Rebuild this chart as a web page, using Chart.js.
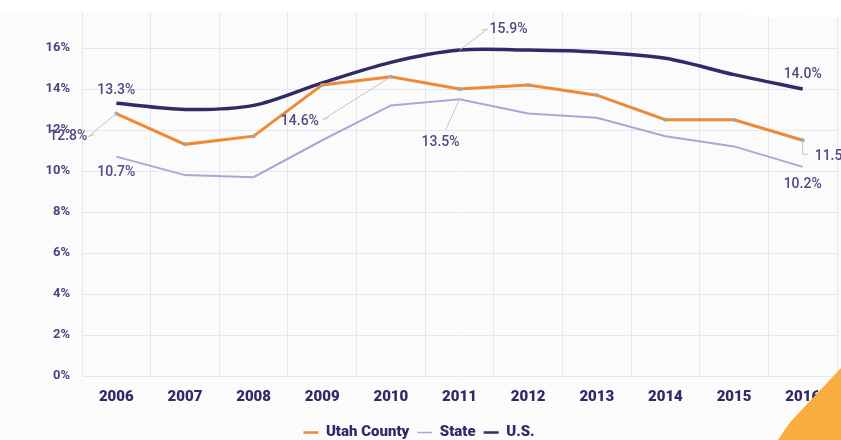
<!DOCTYPE html>
<html>
<head>
<meta charset="utf-8">
<script src="https://cdn.jsdelivr.net/npm/chart.js@4"></script>
<style>
  html, body { margin: 0; padding: 0; background: #fbfbfc; }
  #wrap { position: relative; width: 841px; height: 440px; overflow: hidden; }
  #chart { position: absolute; left: 0; top: 0; }
  .cover { position: absolute; background: #ffffff; }
  #corner { position: absolute; left: 0; top: 0; pointer-events: none; }
</style>
</head>
<body>
<div id="wrap">
  <canvas id="chart" width="841" height="440"></canvas>
  <div class="cover" style="left:0;top:0;width:841px;height:12px;"></div>
  <div class="cover" style="left:745px;top:0;width:96px;height:17px;"></div>
  <svg id="corner" width="841" height="440">
    <path d="M778 440 L786 428 Q789 423 794 418 L841 368 L841 440 Z" fill="#f7ae3f"/>
  </svg>
</div>
<script>
const years = ['2006', '2007', '2008', '2009', '2010', '2011', '2012', '2013', '2014', '2015', '2016'];
const utahCounty = [12.8, 11.3, 11.7, 14.2, 14.6, 14.0, 14.2, 13.7, 12.5, 12.5, 11.5];
const stateRate = [10.7, 9.8, 9.7, 11.5, 13.2, 13.5, 12.8, 12.6, 11.7, 11.2, 10.2];
const usRate = [13.3, 13.0, 13.2, 14.3, 15.3, 15.9, 15.9, 15.8, 15.5, 14.7, 14.0];
const yTicks = [0, 2, 4, 6, 8, 10, 12, 14, 16, 18];

const navy = '#2f2b66';
const labelColor = '#4e4a85';

// labels placed next to points: dataset index, point index, text offset, optional leader
const pointLabels = [
  { ds: 2, i: 0, dx: 0, dy: -13, align: 'center' },
  { ds: 1, i: 0, dx: 0, dy: 16, align: 'center' },
  { ds: 0, i: 0, dx: -48, dy: 23, align: 'center', leader: [[-28, 23], [-22, 21]] },
  { ds: 0, i: 4, dx: -91, dy: 45, align: 'center', leader: [[-68, 43], [-62, 41]] },
  { ds: 2, i: 5, dx: 49, dy: -21, align: 'center', leader: [[28, -21], [22, -20]] },
  { ds: 1, i: 5, dx: -19, dy: 43, align: 'center', leader: [[-14, 31]] },
  { ds: 2, i: 10, dx: 0, dy: -15, align: 'center' },
  { ds: 0, i: 10, dx: 12, dy: 16, align: 'left', leader: [[0, 14], [6, 14]] },
  { ds: 1, i: 10, dx: 0, dy: 18, align: 'center' },
];

const labelPlugin = {
  id: 'pointLabels',
  afterDatasetsDraw(chart) {
    const { ctx } = chart;
    const x = chart.scales.x;
    const y = chart.scales.y;
    ctx.save();
    pointLabels.forEach((l) => {
      const values = chart.data.datasets[l.ds].data;
      const px = x.getPixelForValue(l.i);
      const py = y.getPixelForValue(values[l.i]);
      if (l.leader) {
        ctx.strokeStyle = '#c9c5c0';
        ctx.lineWidth = 1;
        ctx.beginPath();
        ctx.moveTo(px, py);
        l.leader.forEach((p) => ctx.lineTo(px + p[0], py + p[1]));
        ctx.stroke();
      }
      ctx.fillStyle = labelColor;
      ctx.font = '500 14px Roboto';
      ctx.textAlign = l.align;
      ctx.textBaseline = 'middle';
      ctx.fillText(values[l.i].toFixed(1) + '%', px + l.dx, py + l.dy);
    });
    ctx.restore();
  },
};

new Chart(document.getElementById('chart'), {
  type: 'line',
  data: {
    labels: years,
    datasets: [
      {
        label: 'Utah County',
        data: utahCounty,
        borderColor: '#ee8a36',
        backgroundColor: '#ee8a36',
        borderWidth: 3,
        pointRadius: 2,
        pointBackgroundColor: '#a8a39c',
        pointBorderWidth: 0,
        tension: 0,
      },
      {
        label: 'State',
        data: stateRate,
        borderColor: '#aaa7d8',
        backgroundColor: '#aaa7d8',
        borderWidth: 2,
        pointRadius: 0,
        tension: 0,
      },
      {
        label: 'U.S.',
        data: usRate,
        borderColor: navy,
        backgroundColor: navy,
        borderWidth: 3.5,
        pointRadius: 0,
        tension: 0.3,
      },
    ],
  },
  options: {
    responsive: false,
    animation: false,
    layout: { padding: { top: 7, right: 3, left: 0, bottom: -10 } },
    plugins: {
      tooltip: { enabled: false },
      legend: {
        position: 'bottom',
        labels: {
          usePointStyle: true,
          pointStyle: 'line',
          pointStyleWidth: 15,
          boxWidth: 15,
          padding: 8,
          color: navy,
          font: { family: 'Roboto', size: 15, weight: '900' },
          generateLabels: (chart) =>
            chart.data.datasets.map((ds, i) => ({
              text: ds.label,
              datasetIndex: i,
              pointStyle: 'line',
              strokeStyle: ds.borderColor,
              fillStyle: ds.borderColor,
              lineWidth: i === 1 ? 1.5 : 2.5,
              fontColor: navy,
              hidden: false,
            })),
        },
      },
    },
    scales: {
      x: {
        offset: true,
        grid: { offset: true, color: '#e7e6ee', drawTicks: false },
        border: { display: false },
        ticks: {
          padding: 12,
          color: navy,
          font: { family: 'Roboto', size: 15, weight: '900' },
        },
        afterFit(scale) { scale.height = 41; },
      },
      y: {
        min: 0,
        max: 18,
        afterBuildTicks(scale) { scale.ticks = yTicks.map((v) => ({ value: v })); },
        grid: { color: '#e7e6ee', drawTicks: false },
        border: { display: false },
        ticks: {
          padding: 12,
          color: '#4a4680',
          font: { family: 'Roboto', size: 13, weight: 'bold' },
          callback: (v) => (v === 18 ? '' : v + '%'),
        },
        afterFit(scale) {
          scale.width = 82;
          scale.paddingTop = 0;
          scale.paddingBottom = 0;
        },
      },
    },
  },
  plugins: [labelPlugin],
});
</script>
</body>
</html>
